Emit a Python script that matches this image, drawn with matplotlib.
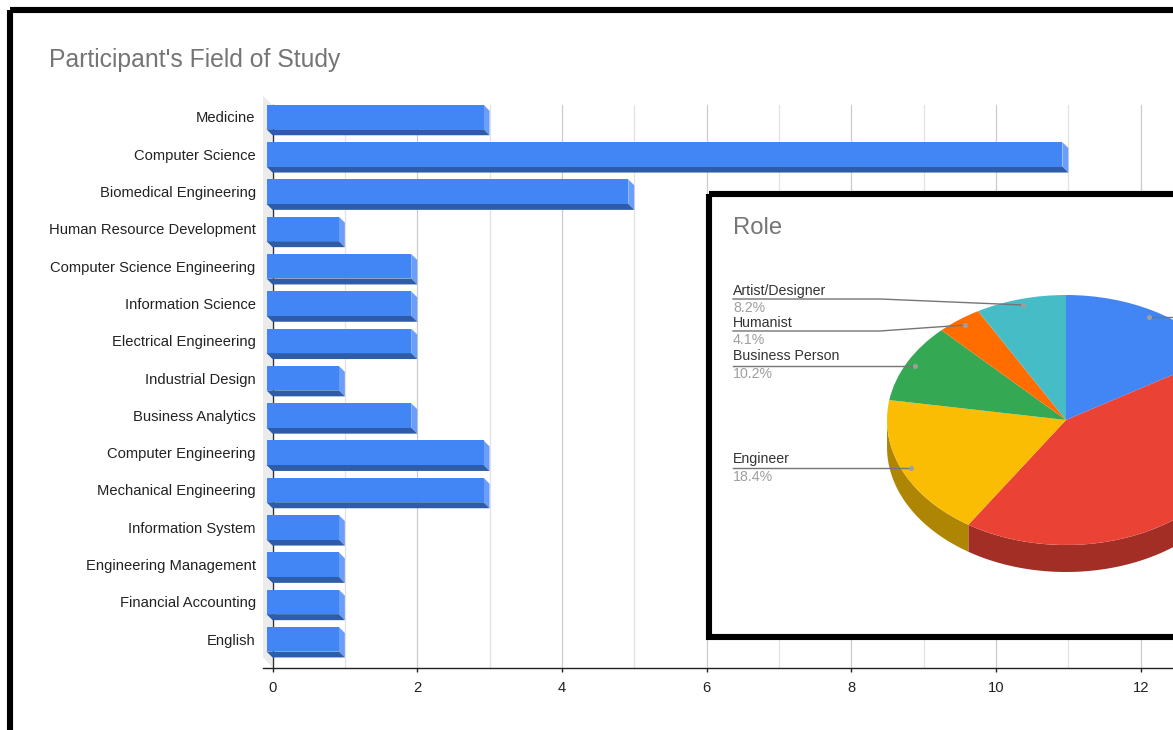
import matplotlib
matplotlib.use("Agg")
import matplotlib.pyplot as plt
import numpy as np
from matplotlib.patches import Rectangle

plt.rcParams['font.family'] = ['Liberation Sans', 'DejaVu Sans']

# data bars
fields = ['Medicine', 'Computer Science', 'Biomedical Engineering',
          'Human Resource Development', 'Computer Science Engineering',
          'Information Science', 'Electrical Engineering', 'Industrial Design',
          'Business Analytics', 'Computer Engineering', 'Mechanical Engineering',
          'Information System', 'Engineering Management', 'Financial Accounting',
          'English']
counts = [3, 11, 5, 1, 2, 2, 2, 1, 2, 3, 3, 1, 1, 1, 1]

# data pie, clockwise from the top
roles = ['', '', 'Engineer', 'Business Person', 'Humanist', 'Artist/Designer']
role_counts = [8, 21, 9, 5, 2, 4]
role_colors = ['#4285F4', '#EA4335', '#FBBC04', '#34A853', '#FF6D01', '#46BDC6']
side_colors = {1: '#A32E25', 2: '#AF8603'}

W, H = 1173, 730
fig = plt.figure(figsize=(W / 100, H / 100), dpi=100, facecolor='white')


def px_axes(left, top, right, bottom, **kw):
    return fig.add_axes([left / W, 1 - bottom / H, (right - left) / W, (bottom - top) / H], **kw)


# Main chart, 72.35 px per unit and 37.3 px per row
ux, uy = 72.35, 37.3
x0, y0 = 272.5, 117.0
left, top, right, bottom = 263, 96, W, 667.5
ax = px_axes(left, top, right, bottom)
ax.set_xlim((left - x0) / ux, (right - x0) / ux)
ax.set_ylim((bottom - y0) / uy, (top - y0) / uy)

dx, dy = 6 / ux, 6 / uy   # depth of the 3d bars
bar_h = 24.5 / uy
ax_top = (105 - y0) / uy
ax_bot = (bottom - y0) / uy
ax_left = (left - x0) / ux

# back wall
ax.fill([ax_left, 0, 0, ax_left], [(96 - y0) / uy, ax_top, ax_bot, (657 - y0) / uy],
        color='#EBEBEB', lw=0, zorder=1)
for v in range(1, 13):
    ax.plot([v, v], [ax_top, ax_bot], color='#CCCCCC' if v % 2 == 0 else '#E2E2E2', lw=0.9, zorder=1)
ax.plot([0, 0], [ax_top, ax_bot], color='#333333', lw=1, zorder=2)

for i, v in enumerate(counts):
    t, b = i - bar_h / 2, i + bar_h / 2
    ax.fill([v - dx, v, v, v - dx], [t, t + dy, b + dy, b], color='#6A9EF8', lw=0, zorder=3)
    ax.fill([-dx, v - dx, v, 0], [b, b, b + dy, b + dy], color='#2E5CA8', lw=0, zorder=3)
    ax.barh(i, v, left=-dx, height=bar_h, color='#4285F4', zorder=4)

ax.set_yticks(range(len(fields)))
ax.set_yticklabels(fields, fontsize=10.6, color='#222222', va='center_baseline')
ax.tick_params(axis='y', length=0, pad=5.3)
ax.set_xticks(range(0, 13, 2))
ax.tick_params(axis='x', length=3, width=1, color='#222222', labelsize=10.6, labelcolor='#222222', pad=7)
for s in ['top', 'right', 'left']:
    ax.spines[s].set_visible(False)
ax.spines['bottom'].set_color('#222222')
ax.spines['bottom'].set_linewidth(1)

# Inset pie, squashed to 179 x 125 px
rx, ry, cx, cy = 179.0, 125.0, 1066.0, 420.0
depth = 27 / ry
in_l, in_t, in_r, in_b = 712, 196, W, 634
ax2 = px_axes(in_l, in_t, in_r, in_b, zorder=5)
ax2.pie(role_counts, colors=role_colors, startangle=90, counterclock=False, radius=1,
        wedgeprops={'linewidth': 0})
ax2.set_aspect('auto')
ax2.set_xlim((in_l - cx) / rx, (in_r - cx) / rx)
ax2.set_ylim((cy - in_b) / ry, (cy - in_t) / ry)
ax2.set_frame_on(True)
ax2.set_xticks([])
ax2.set_yticks([])
ax2.set_facecolor('white')
for s in ax2.spines.values():
    s.set_visible(False)

# pie side wall, only the lower half of the rim shows
edges = np.cumsum([0] + role_counts) / sum(role_counts) * 2 * np.pi
for k, c in side_colors.items():
    a = np.linspace(max(edges[k], np.pi / 2), min(edges[k + 1], 3 * np.pi / 2), 80)
    xs, ys = np.sin(a), np.cos(a)
    ax2.fill(np.r_[xs, xs[::-1]], np.r_[ys, ys[::-1] - depth], color=c, lw=0, zorder=0)

# Overlay in pixels for frames, titles and leader labels
page = fig.add_axes([0, 0, 1, 1], zorder=10)
page.set_xlim(0, W)
page.set_ylim(H, 0)
page.axis('off')
page.add_patch(Rectangle((10, 10), W + 50, H + 50, fill=False, ec='black', lw=4.4))
page.add_patch(Rectangle((709, 193.5), W + 50, 443.5, fill=False, ec='black', lw=4.4))
page.text(49, 60, "Participant's Field of Study", fontsize=17.85, color='#757575', va='center')
page.text(733, 228.5, 'Role', fontsize=17.2, color='#757575', va='center')

# label y, line y, bend x, dot x, dot y for each labelled slice
leaders = {5: (291, 299, 880, 1023, 305), 4: (323, 331, 880, 965, 325),
           3: (356.5, 365.5, 880, 915, 365.5), 2: (459.5, 468, 880, 911, 468)}
for k, (ly, ln, bend, px, py) in leaders.items():
    page.plot([733, bend, px], [ln, ln, py], color='#757575', lw=1)
    page.plot(px, py, 'o', color='#9E9E9E', ms=3.6, mew=0)
    page.text(733, ly, roles[k], fontsize=10.2, color='#333333', va='center')
    pct = 100 * role_counts[k] / sum(role_counts)
    page.text(733, ln + 9, '%.1f%%' % pct, fontsize=10.2, color='#9E9E9E', va='center')
page.plot([1149, W], [317, 317], color='#757575', lw=1)
page.plot(1149, 317, 'o', color='#9E9E9E', ms=3.6, mew=0)

fig.savefig('out.png', dpi=100)
